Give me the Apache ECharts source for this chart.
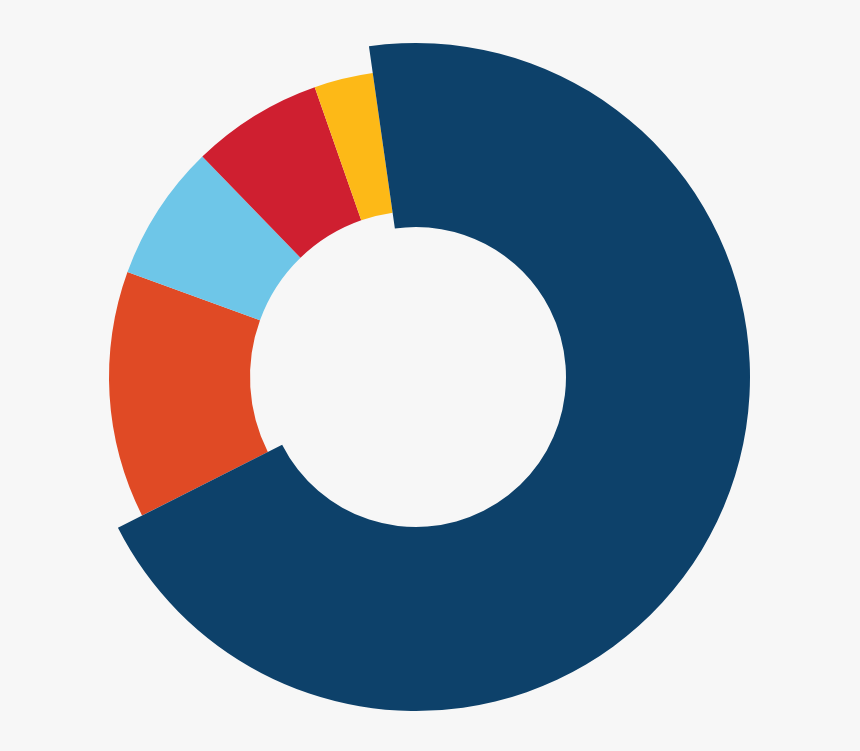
<!DOCTYPE html>
<html>
<head>
<meta charset="utf-8">
<script src="https://cdn.jsdelivr.net/npm/echarts@6/dist/echarts.min.js"></script>
<style>
  html, body { margin: 0; padding: 0; background: #f7f7f7; }
  #chart { width: 860px; height: 751px; }
</style>
</head>
<body>
<div id="chart"></div>
<script>
// Data (share of the full circle, %)
const categories = ['Segment 1', 'Segment 2', 'Segment 3', 'Segment 4', 'Segment 5'];
const values = [69.8, 13.0, 7.2, 6.9, 3.1];
const colors = ['#0d416a', '#e04a25', '#6ec6e8', '#cf1f30', '#fdb917'];
// index of the highlighted (enlarged) slice
const highlightIndex = 0;

const chart = echarts.init(document.getElementById('chart'), null, { renderer: 'canvas' });

function buildData(onlyHighlight) {
  return categories.map((name, i) => {
    const show = onlyHighlight ? i === highlightIndex : i !== highlightIndex;
    return {
      name: name,
      value: values[i],
      itemStyle: { color: show ? colors[i] : 'rgba(0,0,0,0)' }
    };
  });
}

const common = {
  type: 'pie',
  center: [416, 377],
  startAngle: 98.1,
  clockwise: true,
  avoidLabelOverlap: false,
  label: { show: false },
  labelLine: { show: false },
  emphasis: { disabled: true },
  silent: true,
  animation: false,
  itemStyle: { borderWidth: 0 }
};

chart.setOption({
  backgroundColor: '#f7f7f7',
  animation: false,
  series: [
    Object.assign({}, common, { radius: [166, 307], data: buildData(false) }),
    Object.assign({}, common, { radius: [150, 334], data: buildData(true) })
  ]
});
</script>
</body>
</html>
